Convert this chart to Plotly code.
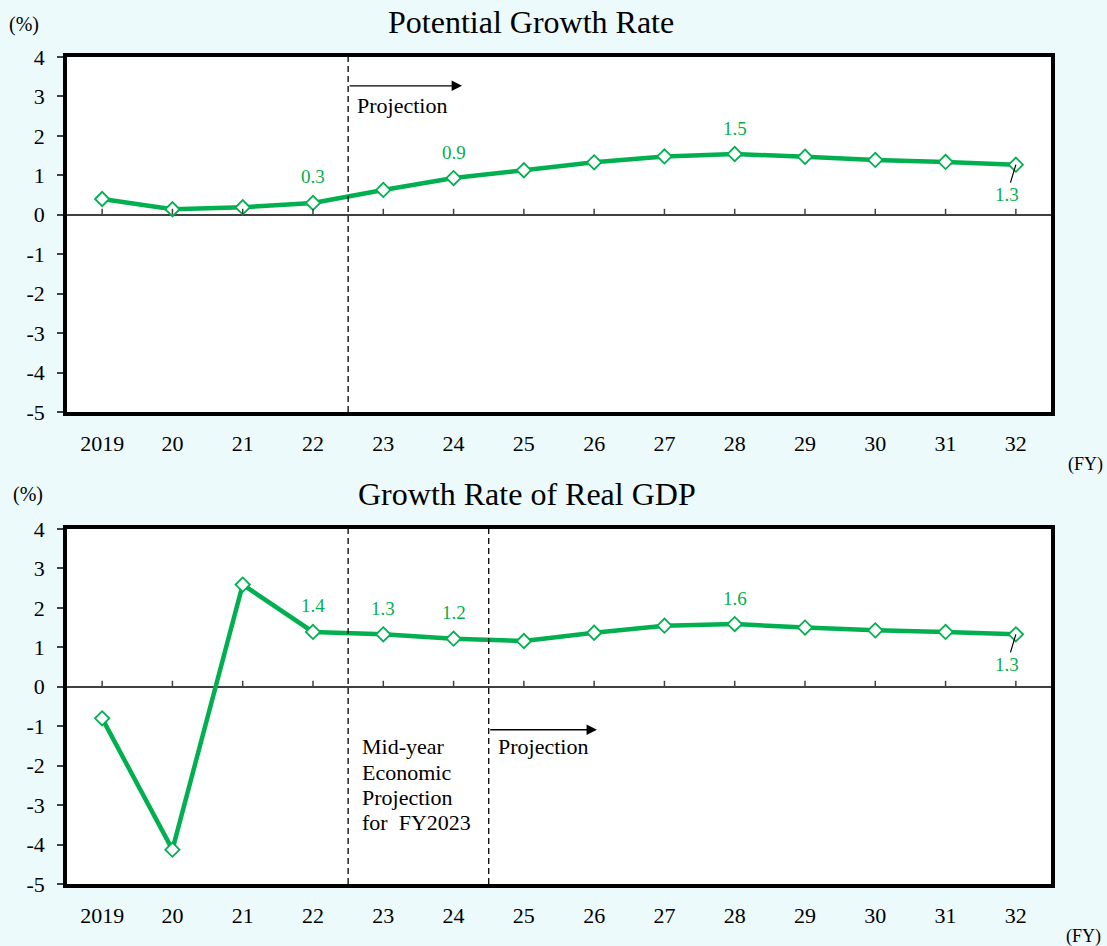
import plotly.graph_objects as go

# Fiscal-year categories shared by both panels
fiscal_years = ["2019", "20", "21", "22", "23", "24", "25", "26", "27", "28", "29", "30", "31", "32"]

# Potential growth rate (%)
potential_growth = [0.4, 0.14, 0.19, 0.3, 0.63, 0.93, 1.13, 1.33, 1.48, 1.54, 1.47, 1.39, 1.34, 1.27]

# Real GDP growth rate (%)
real_gdp_growth = [-0.8, -4.13, 2.59, 1.39, 1.33, 1.22, 1.16, 1.37, 1.55, 1.59, 1.5, 1.43, 1.39, 1.33]

# Y tick values / labels
y_ticks = [-5, -4, -3, -2, -1, 0, 1, 2, 3, 4]
y_tick_text = ["-5", "-4", "-3", "-2", "-1", "0", "1", "2", "3", "4"]

# Points annotated with their value: (year, above?)
potential_labels = [("22", True), ("24", True), ("28", True), ("32", False)]
gdp_labels = [("22", True), ("23", True), ("24", True), ("28", True), ("32", False)]

# Note text in the GDP panel
midyear_note = ["Mid-year", "Economic", "Projection", "for  FY2023"]

GREEN = "#00B050"
FONT = "Liberation Serif"
W, H = 1107, 946
ML, MR = 67, 56

fig = go.Figure()


def add_series(values, xa, ya):
    fig.add_trace(go.Scatter(
        x=list(range(len(fiscal_years))), y=values, xaxis=xa, yaxis=ya, mode="lines+markers",
        line=dict(color=GREEN, width=4.5),
        marker=dict(symbol="diamond", size=11, color="white", line=dict(color=GREEN, width=1.8)),
        showlegend=False, hoverinfo="skip",
    ))


add_series(potential_growth, "x", "y")
add_series(real_gdp_growth, "x2", "y2")

axis_x = dict(
    range=[-0.5, len(fiscal_years) - 0.5], tickmode="array",
    tickvals=list(range(len(fiscal_years))), ticktext=fiscal_years,
    showgrid=False, zeroline=False, automargin=False,
    showline=True, mirror=True, linecolor="black", linewidth=3.5, ticks="",
    tickfont=dict(family=FONT, size=22, color="black"), ticklabelstandoff=9,
)
axis_y = dict(
    range=[-5, 4], tickmode="array", tickvals=y_ticks, ticktext=y_tick_text, showgrid=False,
    zeroline=True, zerolinecolor="#404040", zerolinewidth=1.5, automargin=False,
    showline=True, mirror=True, linecolor="black", linewidth=3.5,
    ticks="outside", ticklen=6, tickwidth=1.5, tickcolor="#404040",
    tickfont=dict(family=FONT, size=22, color="black"), ticklabelstandoff=8,
)

fig.update_layout(
    width=W, height=H,
    margin=dict(l=ML, r=MR, t=0, b=0),
    paper_bgcolor="#ECFAFC", plot_bgcolor="white",
    font=dict(family=FONT, color="black"),
    xaxis=dict(axis_x, domain=[0, 1], anchor="y"),
    yaxis=dict(axis_y, domain=[1 - 412 / H, 1 - 57 / H], anchor="x"),
    xaxis2=dict(axis_x, domain=[0, 1], anchor="y2"),
    yaxis2=dict(axis_y, domain=[1 - 884 / H, 1 - 529 / H], anchor="x2"),
)

shapes = []
annotations = []

# Small tick marks standing on the zero line at each category
for xr, yr in (("x", "y"), ("x2", "y2")):
    for i, _ in enumerate(fiscal_years):
        shapes.append(dict(type="line", xref=xr, yref=yr, x0=i, x1=i,
                           ysizemode="pixel", yanchor=0, y0=0, y1=6,
                           line=dict(color="#404040", width=1.5)))


def vdash(x, xr, yr):
    shapes.append(dict(type="line", xref=xr, yref=yr, x0=x, x1=x, y0=-5, y1=4,
                       line=dict(color="black", width=1.3, dash="6px,4px")))


vdash(3.5, "x", "y")
vdash(3.5, "x2", "y2")
vdash(5.5, "x2", "y2")


def value_labels(values, which, xr, yr):
    for year, above in which:
        i = fiscal_years.index(year)
        v = values[i]
        txt = f"{v:.1f}"
        if above:
            annotations.append(dict(x=i, y=v, xref=xr, yref=yr, text=txt, showarrow=False,
                                    yshift=26, font=dict(family=FONT, size=19, color=GREEN)))
        else:
            annotations.append(dict(x=i, y=v, xref=xr, yref=yr, text=txt, showarrow=True,
                                    ax=-9, ay=30, arrowhead=0, arrowwidth=1.2, arrowcolor="black",
                                    standoff=0, font=dict(family=FONT, size=19, color=GREEN)))


value_labels(potential_growth, potential_labels, "x", "y")
value_labels(real_gdp_growth, gdp_labels, "x2", "y2")


def projection_arrow(x0, x1, y, xr, yr, ty):
    annotations.append(dict(x=x1, y=y, ax=x0, ay=y, xref=xr, yref=yr, axref=xr, ayref=yr,
                            text="", showarrow=True, arrowhead=2, arrowsize=1.6,
                            arrowwidth=1.3, arrowcolor="black"))
    annotations.append(dict(x=x0 + 0.1, y=ty, xref=xr, yref=yr, text="Projection",
                            showarrow=False, xanchor="left",
                            font=dict(family=FONT, size=22, color="black")))


projection_arrow(3.5, 5.12, 3.27, "x", "y", 2.78)
projection_arrow(5.5, 7.04, -1.09, "x2", "y2", -1.52)

for k, line in enumerate(midyear_note):
    annotations.append(dict(x=3.67, y=-1.52, xref="x2", yref="y2", xanchor="left",
                            yanchor="middle", showarrow=False, text=line, yshift=-25.4 * k,
                            font=dict(family=FONT, size=22, color="black")))


def paper_text(px, py, text, size):
    annotations.append(dict(x=(px - ML) / (W - ML - MR), y=1 - py / H, xref="paper", yref="paper",
                            text=text, showarrow=False, xanchor="center", yanchor="middle",
                            font=dict(family=FONT, size=size, color="black")))


paper_text(531, 22, "Potential Growth Rate", 32)
paper_text(527, 494, "Growth Rate of Real GDP", 32)
paper_text(24, 25, "(%)", 20)
paper_text(28, 494, "(%)", 20)
paper_text(1085, 464, "(FY)", 18)
paper_text(1083, 936, "(FY)", 18)

fig.update_layout(shapes=shapes, annotations=annotations)

fig.write_html("out.html")
